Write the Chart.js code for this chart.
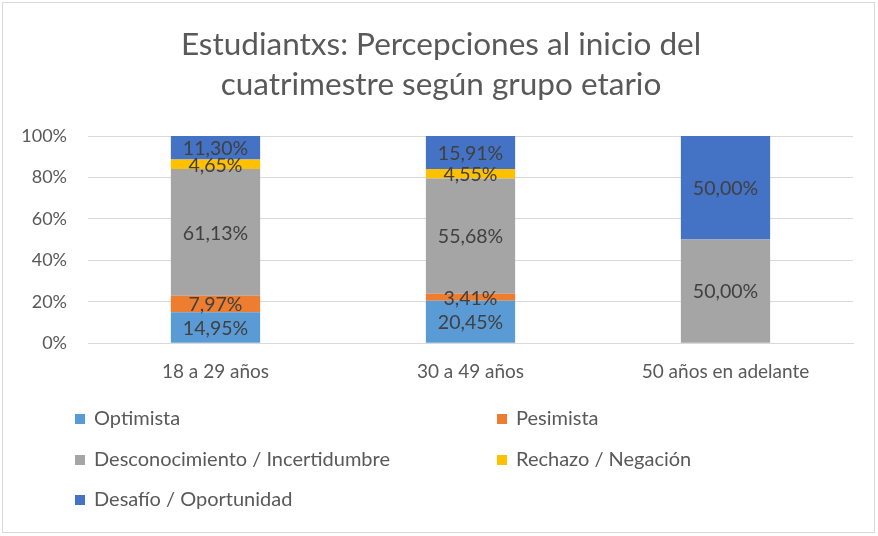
<!DOCTYPE html>
<html>
<head>
<meta charset="utf-8">
<script src="https://cdn.jsdelivr.net/npm/chart.js@4.4.1/dist/chart.umd.min.js"></script>
<style>
  html, body { margin: 0; padding: 0; background: #fff; }
  #wrap { position: relative; width: 878px; height: 536px; }
  #frame { position: absolute; left: 2px; top: 2px; width: 871px; height: 529px; border: 1px solid #d9d9d9; pointer-events: none; }
  canvas { position: absolute; left: 0; top: 0; }
</style>
</head>
<body>
<div id="wrap">
  <canvas id="chart" width="878" height="536"></canvas>
  <div id="frame"></div>
</div>
<script>
// Estudiantxs - percepciones por grupo etario

const titleLines = ['Estudiantxs: Percepciones al inicio del', 'cuatrimestre según grupo etario'];
const groups = ['18 a 29 años', '30 a 49 años', '50 años en adelante'];

const optimista       = [14.95, 20.45, 0];
const pesimista       = [7.97, 3.41, 0];
const desconocimiento = [61.13, 55.68, 50.00];
const rechazo         = [4.65, 4.55, 0];
const desafio         = [11.30, 15.91, 50.00];

const seriesNames  = ['Optimista', 'Pesimista', 'Desconocimiento / Incertidumbre', 'Rechazo / Negación', 'Desafío / Oportunidad'];
const seriesData   = [optimista, pesimista, desconocimiento, rechazo, desafio];
const seriesColors = ['#5B9BD5', '#ED7D31', '#A5A5A5', '#FFC000', '#4472C4'];
const yTicks = [0, 20, 40, 60, 80, 100];

const FONT = 'Lato, "Open Sans", sans-serif';
const TEXT = '#595959';

function fmt(v) {
    return v.toFixed(2).replace('.', ',') + '%';
}

const titleDraw = {
    id: 'titleDraw',
    afterDraw(chart) {
        const ctx = chart.ctx;
        ctx.save();
        ctx.font = '31.5px ' + FONT;
        ctx.fillStyle = TEXT;
        ctx.textAlign = 'center';
        ctx.textBaseline = 'middle';
        titleLines.forEach((line, i) => ctx.fillText(line, 441, 45 + i * 40));
        ctx.restore();
    }
};

// labels in the middle of each segment
const segmentLabels = {
    id: 'segmentLabels',
    afterDatasetsDraw(chart) {
        const ctx = chart.ctx;
        ctx.save();
        ctx.font = '19.5px ' + FONT;
        ctx.fillStyle = '#404040';
        ctx.textAlign = 'center';
        ctx.textBaseline = 'middle';
        chart.data.datasets.forEach((ds, i) => {
            chart.getDatasetMeta(i).data.forEach((bar, j) => {
                const v = ds.data[j];
                if (!v) return;
                ctx.fillText(fmt(v), bar.x, (bar.y + bar.base) / 2 + 1);
            });
        });
        ctx.restore();
    }
};

// two-column legend under the axis
const gridLegend = {
    id: 'gridLegend',
    afterDraw(chart) {
        const ctx = chart.ctx;
        const cols = [75, 497];
        const rows = [419, 460, 500];
        ctx.save();
        ctx.font = '20px ' + FONT;
        ctx.textBaseline = 'middle';
        chart.data.datasets.forEach((ds, i) => {
            const x = cols[i % 2];
            const y = rows[Math.floor(i / 2)];
            ctx.fillStyle = ds.backgroundColor;
            ctx.fillRect(x, y - 5, 10, 10);
            ctx.fillStyle = TEXT;
            ctx.textAlign = 'left';
            ctx.fillText(ds.label, x + 19, y);
        });
        ctx.restore();
    }
};

new Chart(document.getElementById('chart'), {
    type: 'bar',
    data: {
        labels: groups,
        datasets: seriesNames.map((name, i) => ({
            label: name,
            data: seriesData[i],
            backgroundColor: seriesColors[i],
            borderWidth: 0,
            barPercentage: 0.7,
            categoryPercentage: 0.5
        }))
    },
    options: {
        responsive: false,
        animation: false,
        layout: { padding: { left: 13, right: 25, top: 136, bottom: 144 } },
        plugins: {
            legend: { display: false },
            tooltip: { enabled: false },
            title: { display: false }
        },
        scales: {
            x: {
                stacked: true,
                grid: { display: false },
                border: { display: true, color: '#d9d9d9' },
                ticks: { color: TEXT, font: { family: FONT, size: 19 }, padding: 9 }
            },
            y: {
                stacked: true,
                min: 0,
                max: 100,
                afterBuildTicks(axis) { axis.ticks = yTicks.map(v => ({ value: v })); },
                afterFit(axis) { axis.width = 75; },
                grid: { color: '#d9d9d9', drawTicks: false },
                border: { display: false },
                ticks: {
                    color: TEXT,
                    font: { family: FONT, size: 18 },
                    padding: 21,
                    callback: v => v + '%'
                }
            }
        }
    },
    plugins: [titleDraw, segmentLabels, gridLegend]
});
</script>
</body>
</html>
